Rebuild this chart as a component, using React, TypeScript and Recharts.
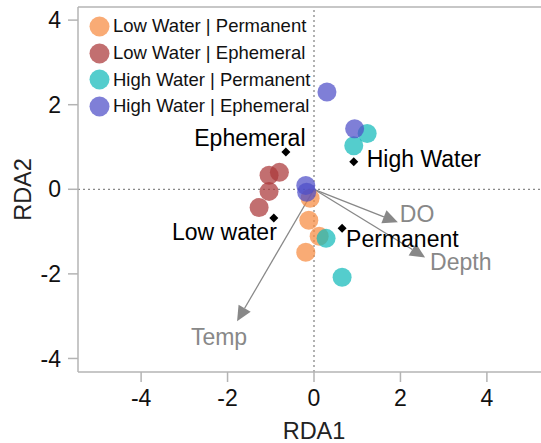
import React from "react";
import {
  Legend, ReferenceLine, Scatter, ScatterChart, XAxis, YAxis,
} from "recharts";

// Site scores per group (RDA1, RDA2)
const lowPermanent = [
  { x: -0.09, y: -0.21 }, { x: -0.12, y: -0.73 }, { x: 0.12, y: -1.11 }, { x: -0.19, y: -1.49 },
];
const lowEphemeral = [
  { x: -0.8, y: 0.4 }, { x: -1.04, y: 0.33 }, { x: -1.04, y: -0.05 }, { x: -1.27, y: -0.43 },
];
const highPermanent = [
  { x: 1.23, y: 1.32 }, { x: 0.92, y: 1.03 }, { x: 0.28, y: -1.16 }, { x: 0.65, y: -2.08 },
];
const highEphemeral = [
  { x: 0.3, y: 2.3 }, { x: 0.94, y: 1.43 }, { x: -0.19, y: 0.09 }, { x: -0.17, y: -0.07 },
];

// Factor centroids
const centroids = [
  { name: "Ephemeral", x: -0.65, y: 0.88 },
  { name: "High Water", x: 0.92, y: 0.65 },
  { name: "Low water", x: -0.93, y: -0.68 },
  { name: "Permanent", x: 0.65, y: -0.92 },
];

// Environmental vectors
const vectors = [
  { name: "DO", x: 1.94, y: -0.78 },
  { name: "Depth", x: 2.57, y: -1.61 },
  { name: "Temp", x: -1.78, y: -3.12 },
];

const ticks = [-4, -2, 0, 2, 4];

const FONT = "'Liberation Sans', Arial, sans-serif";
const AXIS = "#b4b4b4";
const VEC = "#888888";

const groups = [
  { name: "Low Water | Permanent", data: lowPermanent, color: "#f78b40" },
  { name: "Low Water | Ephemeral", data: lowEphemeral, color: "#ab3739" },
  { name: "High Water | Permanent", data: highPermanent, color: "#12baba" },
  { name: "High Water | Ephemeral", data: highEphemeral, color: "#4e4ec8" },
];

// label placement relative to marker
const centroidLabel: Record<string, { dx: number; dy: number; anchor: string }> = {
  Ephemeral: { dx: -36, dy: -6, anchor: "middle" },
  "High Water": { dx: 13, dy: 5, anchor: "start" },
  "Low water": { dx: 3, dy: 22, anchor: "end" },
  Permanent: { dx: 4, dy: 19, anchor: "start" },
};
const vectorLabel: Record<string, { dx: number; dy: number; anchor: string }> = {
  DO: { dx: 2, dy: 0, anchor: "start" },
  Depth: { dx: 5, dy: 13, anchor: "start" },
  Temp: { dx: -18, dy: 24, anchor: "middle" },
};

const dot = (color: string) => (p: any) => (
  <circle cx={p.cx} cy={p.cy} r={9.5} fill={color} fillOpacity={0.72} stroke="none" />
);

const diamond = (p: any) => {
  const l = centroidLabel[p.payload.name];
  const s = 4.5;
  return (
    <g>
      <polygon
        points={`${p.cx},${p.cy - s} ${p.cx + s},${p.cy} ${p.cx},${p.cy + s} ${p.cx - s},${p.cy}`}
        fill="#000"
      />
      <text x={p.cx + l.dx} y={p.cy + l.dy} textAnchor={l.anchor} fontSize={23} fontFamily={FONT} fill="#000">
        {p.payload.name}
      </text>
    </g>
  );
};

const arrow = (name: string) => (p: any) => {
  const { x1, y1, x2, y2 } = p;
  const len = Math.hypot(x2 - x1, y2 - y1);
  const ux = (x2 - x1) / len, uy = (y2 - y1) / len;
  const h = 15, w = 7;
  const bx = x2 - ux * h, by = y2 - uy * h;
  const l = vectorLabel[name];
  return (
    <g>
      <line x1={x1} y1={y1} x2={bx} y2={by} stroke={VEC} strokeWidth={1.3} />
      <polygon
        points={`${x2},${y2} ${bx - uy * w},${by + ux * w} ${bx + uy * w},${by - ux * w}`}
        fill={VEC}
      />
      <text x={x2 + l.dx} y={y2 + l.dy} textAnchor={l.anchor} fontSize={23} fontFamily={FONT} fill={VEC}>
        {name}
      </text>
    </g>
  );
};

const LegendBox = () => (
  <div style={{ fontFamily: FONT, fontSize: 18.5, color: "#111" }}>
    {groups.map((g) => (
      <div key={g.name} style={{ display: "flex", alignItems: "center", height: 26.7, whiteSpace: "nowrap" }}>
        <svg width={21} height={21} style={{ marginRight: 3 }}>
          <circle cx={10.5} cy={10.5} r={10} fill={g.color} fillOpacity={0.72} />
        </svg>
        {g.name}
      </div>
    ))}
  </div>
);

export default function App() {
  return (
    <div style={{ position: "fixed", left: 0, top: 0, width: 541, height: 443, overflow: "hidden", background: "#fff" }}>
      <ScatterChart width={560} height={443} margin={{ top: 7, right: 10, bottom: 0, left: 0 }} style={{ fontFamily: FONT }}>
        <XAxis
          type="number" dataKey="x" domain={[-5.46, 5.46]} ticks={ticks} allowDataOverflow
          height={71} tickSize={10} tickMargin={8}
          axisLine={{ stroke: AXIS, strokeWidth: 1.5 }} tickLine={{ stroke: AXIS, strokeWidth: 1.5 }}
          tick={{ fill: "#111", fontSize: 23 }}
          label={{ value: "RDA1", position: "insideBottom", offset: 4, fill: "#222", fontSize: 23.5 }}
        />
        <YAxis
          type="number" dataKey="y" domain={[-4.32, 4.31]} ticks={ticks} allowDataOverflow
          width={78} tickSize={10} tickMargin={7}
          axisLine={{ stroke: AXIS, strokeWidth: 1.5 }} tickLine={{ stroke: AXIS, strokeWidth: 1.5 }}
          tick={{ fill: "#111", fontSize: 23 }}
          label={{ value: "RDA2", angle: -90, position: "insideLeft", offset: 23, fill: "#222", fontSize: 23.5, style: { textAnchor: "middle" } }}
        />
        <ReferenceLine y={4.31} stroke={AXIS} strokeWidth={1.5} />
        <ReferenceLine x={0} stroke={VEC} strokeDasharray="2 3" strokeWidth={1.3} />
        <ReferenceLine y={0} stroke={VEC} strokeDasharray="2 3" strokeWidth={1.3} />
        <Legend
          content={<LegendBox />}
          layout="vertical" align="center" verticalAlign="middle"
          wrapperStyle={{ left: 89, top: 13, width: "auto" }}
        />
        {groups.map((g) => (
          <Scatter key={g.name} name={g.name} data={g.data} fill={g.color} shape={dot(g.color)} isAnimationActive={false} />
        ))}
        {vectors.map((v) => (
          <ReferenceLine key={v.name} segment={[{ x: 0, y: 0 }, { x: v.x, y: v.y }]} shape={arrow(v.name)} />
        ))}
        <Scatter data={centroids} shape={diamond} legendType="none" isAnimationActive={false} />
      </ScatterChart>
    </div>
  );
}
